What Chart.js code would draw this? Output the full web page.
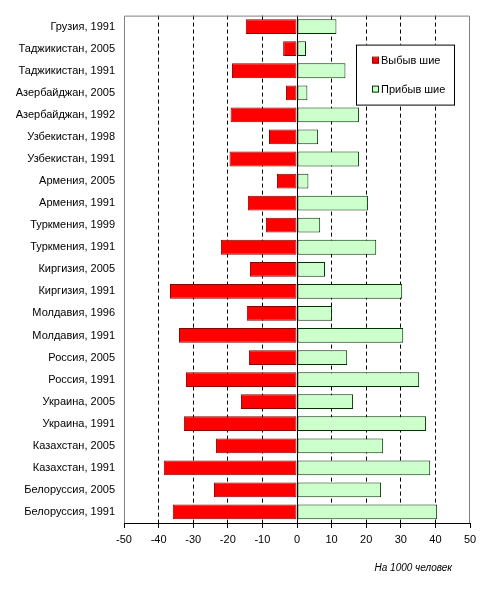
<!DOCTYPE html>
<html><head><meta charset="utf-8">
<script src="https://cdn.jsdelivr.net/npm/chart.js@4/dist/chart.umd.min.js"></script>
<style>html,body{margin:0;padding:0;background:#fff}canvas{display:block}</style>
</head><body>
<canvas id="c" width="485" height="591"></canvas>
<script>
const categories = ["Грузия, 1991","Таджикистан, 2005","Таджикистан, 1991","Азербайджан, 2005","Азербайджан, 1992","Узбекистан, 1998","Узбекистан, 1991","Армения, 2005","Армения, 1991","Туркмения, 1999","Туркмения, 1991","Киргизия, 2005","Киргизия, 1991","Молдавия, 1996","Молдавия, 1991","Россия, 2005","Россия, 1991","Украина, 2005","Украина, 1991","Казахстан, 2005","Казахстан, 1991","Белоруссия, 2005","Белоруссия, 1991"];
const departed = [-14.8,-4.0,-18.8,-3.2,-19.2,-8.1,-19.5,-5.8,-14.2,-9.0,-22.0,-13.6,-36.7,-14.5,-34.1,-13.9,-32.1,-16.2,-32.7,-23.4,-38.5,-24.0,-35.9];
const arrived = [11.4,2.6,14.0,3.0,17.9,6.1,17.9,3.3,20.5,6.7,22.9,8.1,30.4,10.1,30.7,14.5,35.3,16.2,37.3,24.9,38.5,24.3,40.5];
const seriesNames = ["Выбыв шие","Прибыв шие"];
const xTicks = {min:-50, max:50, step:10};
const axisTitle = "На 1000 человек";

const FONT = "'Liberation Sans', Arial, sans-serif";

const framePlugin = {
  id:'frame',
  beforeDatasetsDraw(chart){
    const {ctx, chartArea:a} = chart;
    ctx.save();
    ctx.strokeStyle = '#808080'; ctx.lineWidth = 1;
    ctx.beginPath();
    ctx.moveTo(a.left+0.5, a.bottom); ctx.lineTo(a.left+0.5, a.top+0.5);
    ctx.lineTo(a.right-0.5, a.top+0.5); ctx.lineTo(a.right-0.5, a.bottom);
    ctx.stroke();
    ctx.strokeStyle = '#000';
    ctx.beginPath(); ctx.moveTo(a.left, a.bottom+0.5); ctx.lineTo(a.right, a.bottom+0.5); ctx.stroke();
    ctx.restore();
  },
  afterDatasetsDraw(chart){
    const {ctx, chartArea:a} = chart;
    ctx.save();
    const bx = a.left + 232, by = a.top + 29, bw = 98, bh = 60;
    ctx.fillStyle = '#fff'; ctx.fillRect(bx, by, bw, bh);
    ctx.strokeStyle = '#000'; ctx.lineWidth = 1;
    ctx.strokeRect(bx+0.5, by+0.5, bw, bh);
    ctx.font = "11px " + FONT; ctx.textBaseline = 'middle'; ctx.textAlign = 'left';
    chart.data.datasets.forEach((ds, i) => {
      const y = by + 16 + i*29;
      ctx.fillStyle = ds.backgroundColor; ctx.fillRect(bx+17, y-3, 6, 6);
      ctx.strokeStyle = ds.borderColor; ctx.strokeRect(bx+16.5, y-3.5, 6, 6);
      ctx.fillStyle = '#000'; ctx.fillText(ds.label, bx+25, y);
    });
    ctx.font = "italic 10px " + FONT; ctx.textAlign = 'right';
    ctx.fillText(axisTitle, a.right - 18, a.bottom + 45);
    ctx.restore();
  }
};

new Chart(document.getElementById('c'), {
  type:'bar',
  data:{
    labels: categories,
    datasets:[
      {label: seriesNames[0], data: departed, backgroundColor:'#FF0000', borderColor:'#8B0000', borderWidth:1, borderSkipped:false},
      {label: seriesNames[1], data: arrived, backgroundColor:'#CCFFCC', borderColor:'#003300', borderWidth:1, borderSkipped:false}
    ]
  },
  options:{
    indexAxis:'y', responsive:false, animation:false,
    layout:{padding:{top:15, right:15, left:0, bottom:0}},
    datasets:{bar:{categoryPercentage:1, barPercentage:0.67}},
    plugins:{legend:{display:false}, tooltip:{enabled:false}},
    scales:{
      x:{
        stacked:true, min:xTicks.min, max:xTicks.max,
        afterFit(s){ s.height = 68; },
        ticks:{stepSize:xTicks.step, color:'#000', font:{family:FONT, size:11}, padding:5, maxRotation:0},
        grid:{
          color: c => (c.tick && (c.tick.value===xTicks.min || c.tick.value===xTicks.max)) ? 'rgba(0,0,0,0)' : '#000',
          lineWidth:1, tickColor:'#000', tickLength:5, drawTicks:true
        },
        border:{display:false, dash: c => (c.tick && c.tick.value===0) ? [] : [4,3]}
      },
      y:{
        stacked:true,
        afterFit(s){ s.width = 124; },
        ticks:{color:'#000', font:{family:FONT, size:11}, padding:9, autoSkip:false},
        grid:{display:false, drawTicks:false},
        border:{display:false}
      }
    }
  },
  plugins:[framePlugin]
});
</script>
</body></html>
